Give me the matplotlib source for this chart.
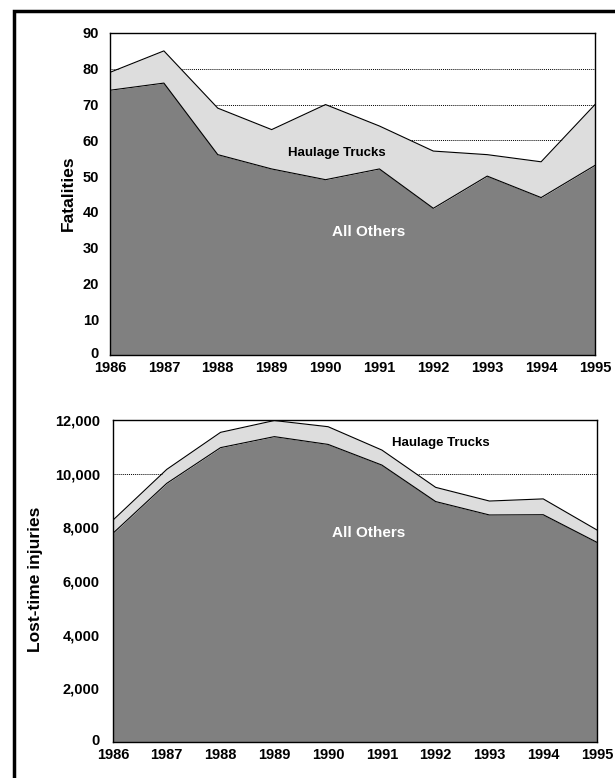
import matplotlib
matplotlib.use("Agg")
import matplotlib.pyplot as plt
from matplotlib.patches import Rectangle
from matplotlib.ticker import FuncFormatter
from matplotlib.transforms import ScaledTranslation
import numpy as np

years = [1986, 1987, 1988, 1989, 1990, 1991, 1992, 1993, 1994, 1995]

# fatalities
fat_others = [74, 76, 56, 52, 49, 52, 41, 50, 44, 53]
fat_haulage = [5, 9, 13, 11, 21, 12, 16, 6, 10, 17]

# lost-time injuries
inj_others = [7780, 9640, 10970, 11380, 11090, 10320, 8960, 8460, 8470, 7440]
inj_haulage = [490, 520, 570, 600, 660, 560, 530, 520, 590, 460]

plt.rcParams["font.family"] = ["Liberation Sans", "DejaVu Sans"]
plt.rcParams["font.weight"] = "bold"

fig = plt.figure(figsize=(6.15, 7.78), dpi=100)
W, H = 615, 778


def axes_px(left, top, right, bottom):
    return fig.add_axes([left / W, 1 - bottom / H, (right - left) / W, (bottom - top) / H])


ax1 = axes_px(110, 33, 595, 355)
ax2 = axes_px(113, 420, 597, 742)


def draw(ax, others, haul, ymax, step, grid_vals, fmt, ypad):
    x = np.array(years)
    o = np.array(others)
    t = o + np.array(haul)
    for g in grid_vals:
        ax.axhline(g, color="black", lw=0.7, ls=(0, (1, 1)), zorder=0)
    ax.fill_between(x, 0, o, color="#808080", lw=0, zorder=2)
    ax.fill_between(x, o, t, color="#dddddd", lw=0, zorder=2)
    ax.plot(x, o, color="black", lw=0.8, zorder=3)
    ax.plot(x, t, color="black", lw=0.8, zorder=3)
    ax.set_xlim(years[0], years[-1])
    ax.set_ylim(0, ymax)
    ax.set_yticks(np.arange(0, ymax + 1, step))
    ax.set_xticks(years)
    ax.yaxis.set_major_formatter(FuncFormatter(fmt))
    ax.tick_params(axis="x", length=0, labelsize=10.5, pad=4)
    ax.tick_params(axis="y", length=0, labelsize=10.5, pad=ypad)
    for lab in ax.get_xticklabels() + ax.get_yticklabels():
        lab.set_fontweight("bold")
    # nudge the "0" label up a little so it clears the first year label
    zero = ax.get_yticklabels()[0]
    zero.set_transform(zero.get_transform() + ScaledTranslation(0, 2 / 72, fig.dpi_scale_trans))
    for s in ax.spines.values():
        s.set_linewidth(1.0)
        s.set_zorder(4)


draw(ax1, fat_others, fat_haulage, 90, 10, [60, 70, 80], lambda v, p: f"{int(v)}", 8)
draw(ax2, inj_others, inj_haulage, 12000, 2000, [10000], lambda v, p: f"{int(v):,}", 9.5)

ax1.text(1990.2, 56.5, "Haulage Trucks", ha="center", va="center", fontsize=9.5,
         fontweight="bold", color="black", zorder=5)
ax1.text(1990.8, 34.4, "All Others", ha="center", va="center", fontsize=11,
         fontweight="bold", color="white", zorder=5)
ax2.text(1992.1, 11140, "Haulage Trucks", ha="center", va="center", fontsize=9.5,
         fontweight="bold", color="black", zorder=5)
ax2.text(1990.75, 7790, "All Others", ha="center", va="center", fontsize=11,
         fontweight="bold", color="white", zorder=5)

fig.text(68 / W, 1 - 193 / H, "Fatalities", rotation=90, ha="center", va="center",
         fontsize=12.5, fontweight="bold")
fig.text(36 / W, 1 - 579 / H, "Lost-time injuries", rotation=90, ha="center", va="center",
         fontsize=12.5, fontweight="bold")

# outer frame of the figure box
fig.patches.append(Rectangle((13.5 / W, -0.1), 1.2, 1 - 11.5 / H + 0.1, transform=fig.transFigure,
                             fill=False, edgecolor="black", lw=2.5, clip_on=False))

fig.savefig("out.png", dpi=100)
